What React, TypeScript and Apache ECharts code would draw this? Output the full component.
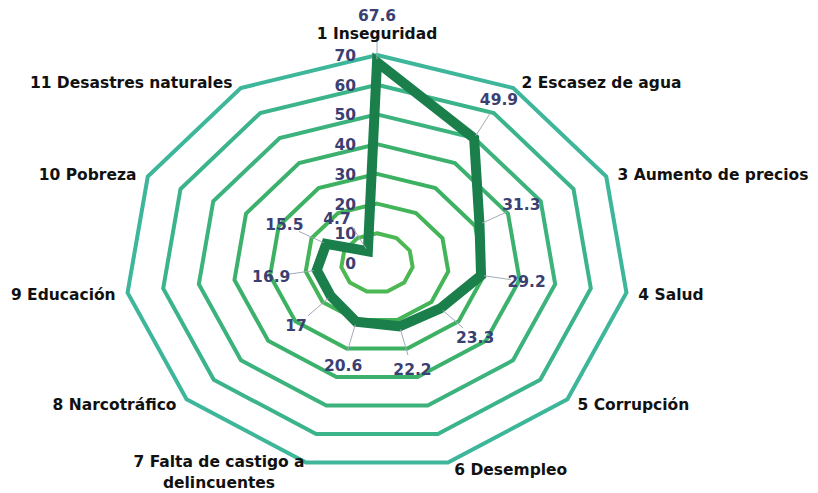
import React, { useEffect, useRef } from "react";
import * as echarts from "echarts";

const categories = [
  "1 Inseguridad",
  "2 Escasez de agua",
  "3 Aumento de precios",
  "4 Salud",
  "5 Corrupción",
  "6 Desempleo",
  "7 Falta de castigo a\ndelincuentes",
  "8 Narcotráfico",
  "9 Educación",
  "10 Pobreza",
  "11 Desastres naturales",
];
const values = [67.6, 49.9, 31.3, 29.2, 23.3, 22.2, 20.6, 17, 16.9, 15.5, 4.7];
const ringTicks = [10, 20, 30, 40, 50, 60, 70];
const tickLabels = ["0", "10", "20", "30", "40", "50", "60", "70"];
const maxValue = 70;

const ringColors = ["#4cb853", "#43b457", "#3db162", "#3cb16e", "#3cb27c", "#3cb48a", "#3eb69a"];
const dataColor = "#1a7f4b";
const numColor = "#3b4072";
const NUM_FONT = 'bold 15.5px "DejaVu Sans"';
const NAME_FONT = 'bold 15.5px "DejaVu Sans"';

const angle = (i: number) => (i * 2 * Math.PI) / categories.length;
const pt = (i: number, v: number) => [v * Math.sin(angle(i)), v * Math.cos(angle(i))];

export default function App() {
  const ref = useRef<HTMLDivElement>(null);
  useEffect(() => {
    if (!ref.current) return;
    const chart = echarts.init(ref.current, null, { renderer: "svg" });
    const option: any = {
      animation: false,
      backgroundColor: "#ffffff",
      grid: { left: 125, right: 189, top: 55, bottom: 22 },
      xAxis: { type: "value", min: -maxValue, max: maxValue, show: false },
      yAxis: { type: "value", min: -maxValue, max: maxValue, show: false },
      series: [
        {
          type: "custom",
          name: "rings",
          silent: true,
          data: ringTicks.map((t) => [t, t]),
          renderItem: (params: any, api: any) => {
            const t = ringTicks[params.dataIndex];
            const points = categories.map((_, i) => api.coord(pt(i, t)));
            return {
              type: "polygon",
              shape: { points },
              style: { fill: "none", stroke: ringColors[params.dataIndex], lineWidth: 4, lineJoin: "miter" },
            };
          },
          z: 1,
        },
        {
          type: "custom",
          name: "ticks",
          silent: true,
          data: tickLabels.map((s) => [0, Number(s)]),
          renderItem: (params: any, api: any) => {
            const v = Number(tickLabels[params.dataIndex]);
            const p = api.coord([0, v]);
            return {
              type: "text",
              x: p[0] - 21,
              y: p[1] + 1,
              style: {
                text: tickLabels[params.dataIndex],
                font: NUM_FONT,
                fill: numColor,
                align: "right",
                verticalAlign: "middle",
                textAlign: "right",
                textVerticalAlign: "middle",
              },
            };
          },
          z: 2,
        },
        {
          type: "custom",
          name: "Problemas",
          silent: true,
          data: values.map((v, i) => [i, v]),
          renderItem: (params: any, api: any) => {
            const i = params.dataIndex;
            const children: any[] = [];
            if (i === 0) {
              const points = values.map((v, k) => api.coord(pt(k, v)));
              children.push({
                type: "polygon",
                shape: { points },
                style: { fill: "none", stroke: dataColor, lineWidth: 10, lineJoin: "miter" },
              });
            }
            const s = Math.sin(angle(i));
            const c = Math.cos(angle(i));
            const p = api.coord(pt(i, values[i]));
            // small values sit close to the tick labels: push their label a little further down-left
            const extra = values[i] < 10 ? 6 : 0;
            children.push({
              type: "line",
              shape: { x1: p[0] + 3 * s, y1: p[1] - 3 * c, x2: p[0] + 30 * s, y2: p[1] - 30 * c },
              style: { stroke: "#a3aab8", lineWidth: 1 },
            });
            children.push({
              type: "text",
              x: p[0] + 46 * s - extra,
              y: p[1] - 46 * c + extra,
              style: {
                text: String(values[i]),
                font: NUM_FONT,
                fill: numColor,
                align: "center",
                verticalAlign: "middle",
                textAlign: "center",
                textVerticalAlign: "middle",
              },
            });
            return { type: "group", children };
          },
          z: 3,
        },
        {
          type: "custom",
          name: "names",
          silent: true,
          data: categories.map((_, i) => [i, maxValue]),
          renderItem: (params: any, api: any) => {
            const i = params.dataIndex;
            const s = Math.sin(angle(i));
            const c = Math.cos(angle(i));
            const p = api.coord(pt(i, maxValue));
            let x: number, y: number, align: string;
            if (i === 0) {
              x = p[0];
              y = p[1] - 21;
              align = "center";
            } else if (i === 6) {
              x = p[0] - 87;
              y = p[1] + 10;
              align = "center";
            } else {
              const sg = s > 0 ? 1 : -1;
              x = p[0] + sg * (4 + 8 * Math.abs(s));
              y = p[1] - 7 * c + 1;
              align = sg > 0 ? "left" : "right";
            }
            return {
              type: "text",
              x,
              y,
              style: {
                text: categories[i],
                font: NAME_FONT,
                fill: "#111111",
                lineHeight: 21,
                align,
                verticalAlign: "middle",
                textAlign: align,
                textVerticalAlign: "middle",
              },
            };
          },
          z: 4,
        },
      ],
    };
    chart.setOption(option);
    return () => chart.dispose();
  }, []);
  return (
    <div
      ref={ref}
      style={{ position: "absolute", left: 0, top: 0, width: 818, height: 493 }}
    />
  );
}
